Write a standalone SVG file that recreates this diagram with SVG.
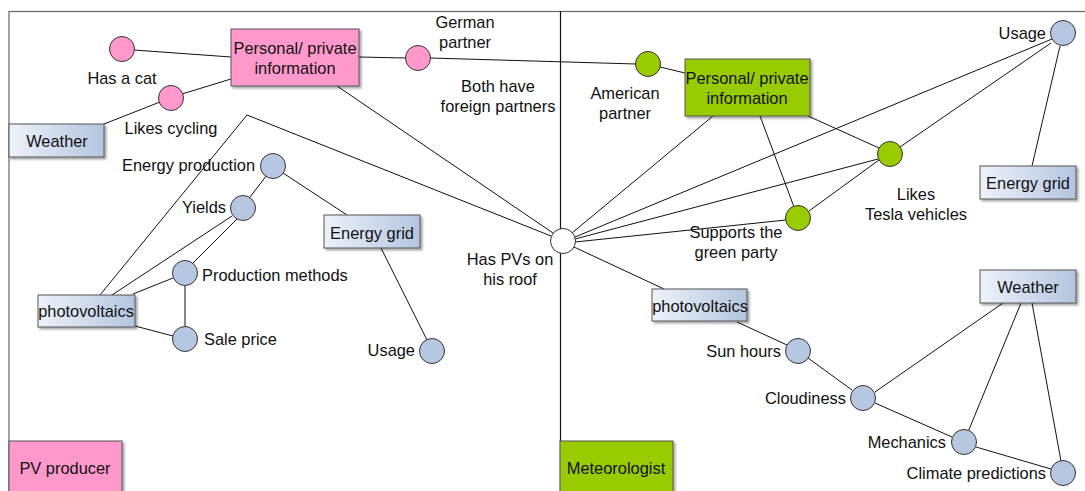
<svg xmlns="http://www.w3.org/2000/svg" width="1085" height="491" viewBox="0 0 1085 491">
  <defs>
    <linearGradient id="blueGrad" x1="0" y1="0" x2="1" y2="0">
      <stop offset="0" stop-color="#eef2fa"/>
      <stop offset="1" stop-color="#b3c5df"/>
    </linearGradient>
    <filter id="shadow" x="-10%" y="-10%" width="130%" height="140%">
      <feDropShadow dx="2" dy="2" stdDeviation="1" flood-color="#000" flood-opacity="0.35"/>
    </filter>
  </defs>
  <style>
    text { font-family: "Liberation Sans", Arial, sans-serif; font-size: 16.4px; fill: #111; dominant-baseline: central; }
    .c { text-anchor: middle; }
    .r { text-anchor: end; }
    .l { text-anchor: start; }
    .box { stroke: #555; stroke-width: 1; filter: url(#shadow); }
    .blue { fill: url(#blueGrad); }
    .pink { fill: #ff99cc; }
    .green { fill: #99cc00; }
    .node { stroke: #333; stroke-width: 1; }
    .nblue { fill: #b6c7e1; }
    .hub { fill: #fff; }
    .edge { stroke: #111; stroke-width: 1; fill: none; }
  </style>

  <rect width="1085" height="491" fill="#fff"/>

  <!-- frame and divider -->
  <g id="frame">
    <rect x="9" y="11.5" width="1100" height="500" fill="none" stroke="#666" stroke-width="1.2"/>
    <line x1="560.5" y1="11" x2="560.5" y2="491" stroke="#111" stroke-width="1.2"/>
  </g>

  <!-- connectors -->
  <g id="connectors" class="edge">
    <!-- left: personal info -->
    <line x1="134" y1="50" x2="231" y2="57"/>
    <line x1="182" y1="94" x2="231" y2="79"/>
    <line x1="160" y1="102" x2="104" y2="124"/>
    <line x1="359" y1="57" x2="406" y2="58"/>
    <line x1="430" y1="58" x2="636" y2="64"/>
    <line x1="660" y1="67" x2="685" y2="73"/>
    <line x1="337" y1="86" x2="553" y2="233"/>
    <polyline points="100,295 247,115 551,236"/>
    <!-- left: PV producer knowledge -->
    <line x1="267" y1="175" x2="250" y2="197"/>
    <line x1="283" y1="173" x2="347" y2="215"/>
    <line x1="232" y1="216" x2="112" y2="295"/>
    <line x1="237" y1="219" x2="193" y2="263"/>
    <line x1="173" y1="278" x2="133" y2="294"/>
    <line x1="185" y1="286" x2="185" y2="326"/>
    <line x1="135" y1="326" x2="173" y2="336"/>
    <line x1="381" y1="248" x2="427" y2="340"/>
    <!-- right: hub links -->
    <line x1="713" y1="116" x2="572" y2="233"/>
    <line x1="1052" y1="39" x2="575" y2="237"/>
    <line x1="878" y1="159" x2="575" y2="239"/>
    <line x1="786" y1="220" x2="575" y2="242"/>
    <line x1="574" y1="247" x2="664" y2="289"/>
    <!-- right: personal info -->
    <line x1="760" y1="116" x2="794" y2="207"/>
    <line x1="808" y1="116" x2="879" y2="148"/>
    <line x1="1051" y1="43" x2="900" y2="147"/>
    <line x1="1060" y1="46" x2="1032" y2="166"/>
    <line x1="809" y1="211" x2="879" y2="160"/>
    <!-- right: meteorologist knowledge -->
    <line x1="737" y1="322" x2="787" y2="345"/>
    <line x1="808" y1="358" x2="852" y2="390"/>
    <line x1="875" y1="392" x2="1003" y2="303"/>
    <line x1="875" y1="403" x2="952" y2="437"/>
    <line x1="968" y1="432" x2="1021" y2="303"/>
    <line x1="976" y1="447" x2="1051" y2="469"/>
    <line x1="1032" y1="303" x2="1061" y2="461"/>
  </g>

  <!-- PV producer side -->
  <g id="pv-personal">
    <rect class="box pink" x="231" y="29" width="128" height="57"/>
    <text class="c" x="295" y="48">Personal/ private</text>
    <text class="c" x="295" y="68">information</text>
  </g>
  <g id="has-cat">
    <circle class="node pink" cx="122" cy="49" r="12.5"/>
    <text class="c" x="122" y="78">Has a cat</text>
  </g>
  <g id="likes-cycling">
    <circle class="node pink" cx="171" cy="98" r="12.5"/>
    <text class="c" x="171" y="128">Likes cycling</text>
  </g>
  <g id="german-partner">
    <circle class="node pink" cx="418" cy="58" r="12.5"/>
    <text class="c" x="465" y="22">German</text>
    <text class="c" x="465" y="42">partner</text>
  </g>
  <g id="both-foreign">
    <text class="c" x="498" y="86">Both have</text>
    <text class="c" x="498" y="106">foreign partners</text>
  </g>
  <g id="weather-left">
    <rect class="box blue" x="9" y="124" width="95" height="33"/>
    <text class="c" x="57" y="141">Weather</text>
  </g>
  <g id="energy-production">
    <circle class="node nblue" cx="273" cy="166" r="12.5"/>
    <text class="r" x="255" y="165">Energy production</text>
  </g>
  <g id="yields">
    <circle class="node nblue" cx="243" cy="208" r="12.5"/>
    <text class="r" x="226" y="207">Yields</text>
  </g>
  <g id="energy-grid-left">
    <rect class="box blue" x="324" y="215" width="96" height="33"/>
    <text class="c" x="372" y="233">Energy grid</text>
  </g>
  <g id="production-methods">
    <circle class="node nblue" cx="185" cy="273" r="12.5"/>
    <text class="l" x="202" y="275">Production methods</text>
  </g>
  <g id="pv-left">
    <rect class="box blue" x="38" y="295" width="97" height="32"/>
    <text class="c" x="86" y="311">photovoltaics</text>
  </g>
  <g id="sale-price">
    <circle class="node nblue" cx="185" cy="339" r="12.5"/>
    <text class="l" x="204" y="339">Sale price</text>
  </g>
  <g id="usage-left">
    <circle class="node nblue" cx="432" cy="351" r="12.5"/>
    <text class="r" x="415" y="350">Usage</text>
  </g>
  <g id="pv-producer">
    <rect class="box pink" x="9" y="441" width="113" height="60"/>
    <text class="c" x="65" y="468">PV producer</text>
  </g>

  <!-- shared node -->
  <g id="has-pvs">
    <circle class="node hub" cx="563" cy="241" r="12.5"/>
    <text class="c" x="510" y="259">Has PVs on</text>
    <text class="c" x="510" y="279">his roof</text>
  </g>

  <!-- Meteorologist side -->
  <g id="american-partner">
    <circle class="node green" cx="648" cy="64" r="12.5"/>
    <text class="c" x="625" y="93">American</text>
    <text class="c" x="625" y="113">partner</text>
  </g>
  <g id="met-personal">
    <rect class="box green" x="685" y="59" width="125" height="57"/>
    <text class="c" x="747" y="78">Personal/ private</text>
    <text class="c" x="747" y="98">information</text>
  </g>
  <g id="usage-right">
    <circle class="node nblue" cx="1063" cy="33" r="12.5"/>
    <text class="r" x="1046" y="33">Usage</text>
  </g>
  <g id="likes-tesla">
    <circle class="node green" cx="890" cy="154" r="12.5"/>
    <text class="c" x="916" y="194">Likes</text>
    <text class="c" x="916" y="214">Tesla vehicles</text>
  </g>
  <g id="energy-grid-right">
    <rect class="box blue" x="980" y="166" width="96" height="33"/>
    <text class="c" x="1028" y="183">Energy grid</text>
  </g>
  <g id="green-party">
    <circle class="node green" cx="798" cy="218" r="12.5"/>
    <text class="c" x="736" y="232">Supports the</text>
    <text class="c" x="736" y="252">green party</text>
  </g>
  <g id="pv-right">
    <rect class="box blue" x="652" y="289" width="95" height="32"/>
    <text class="c" x="700" y="306">photovoltaics</text>
  </g>
  <g id="weather-right">
    <rect class="box blue" x="980" y="270" width="96" height="33"/>
    <text class="c" x="1028" y="287">Weather</text>
  </g>
  <g id="sun-hours">
    <circle class="node nblue" cx="798" cy="351" r="12.5"/>
    <text class="r" x="781" y="351">Sun hours</text>
  </g>
  <g id="cloudiness">
    <circle class="node nblue" cx="863" cy="398" r="12.5"/>
    <text class="r" x="846" y="398">Cloudiness</text>
  </g>
  <g id="mechanics">
    <circle class="node nblue" cx="964" cy="442" r="12.5"/>
    <text class="r" x="946" y="442">Mechanics</text>
  </g>
  <g id="climate-predictions">
    <circle class="node nblue" cx="1063" cy="473" r="12.5"/>
    <text class="r" x="1046" y="473">Climate predictions</text>
  </g>
  <g id="meteorologist">
    <rect class="box green" x="560" y="441" width="113" height="60"/>
    <text class="c" x="616" y="468">Meteorologist</text>
  </g>
</svg>
